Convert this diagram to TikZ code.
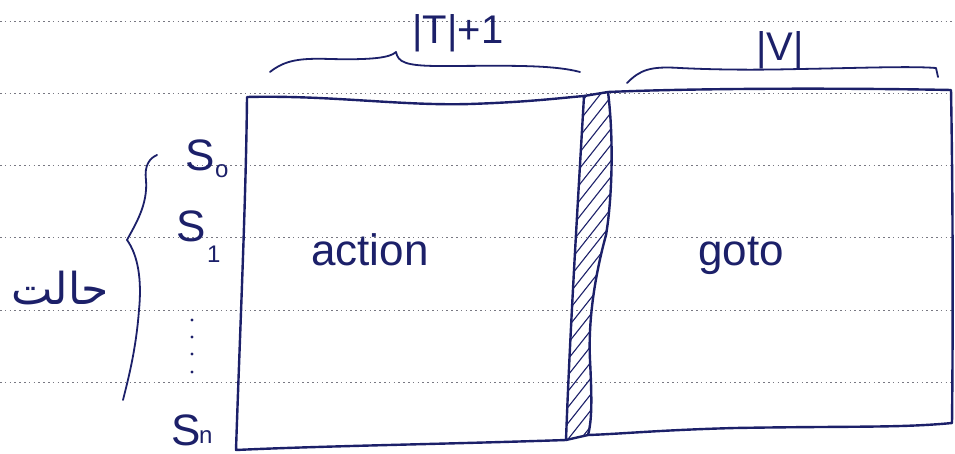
\documentclass[tikz,border=0pt]{standalone}
\usepackage{fontspec}
\setmainfont{Liberation Sans}
\newfontfamily\arabicfont[Script=Arabic]{DejaVu Sans}
\TeXXeTstate=1
\definecolor{ink}{RGB}{28,32,105}
\definecolor{paperline}{RGB}{120,120,130}
\begin{document}
\begin{tikzpicture}[x=1pt,y=-1pt,
  pen/.style={draw=ink,line width=2.4pt,line cap=round,line join=round},
  thinpen/.style={draw=ink,line width=1.8pt,line cap=round,line join=round},
  hatch/.style={draw=ink,line width=1.1pt,line cap=round},
  ruled/.style={draw=paperline,line width=1pt,dash pattern=on 1.6pt off 3.2pt},
  hand/.style={text=ink,inner sep=0pt,font=\fontsize{44}{48}\selectfont},
  lab/.style={text=ink,inner sep=0pt,font=\fontsize{40}{44}\selectfont},
  sub/.style={text=ink,inner sep=0pt,font=\fontsize{24}{26}\selectfont}]
\useasboundingbox (0,0) rectangle (955,454);
\fill[white] (0,0) rectangle (955,454);
% ruled paper lines
\foreach \yy in {22,94,166,238,310,382} \draw[ruled] (0,\yy) -- (955,\yy);
% corner coordinates
\coordinate (atl) at (247,97);
\coordinate (atr) at (584,96);
\coordinate (abl) at (236,450);
\coordinate (abr) at (566,440);
\coordinate (gtl) at (608,92);
\coordinate (gtr) at (951,90);
\coordinate (gbl) at (588,435);
\coordinate (gbr) at (952,423);
% hatched strip
\begin{scope}
\clip (atr) -- (gtl) .. controls (614,140) and (612,200) .. (606,235)
  .. controls (595,275) and (588,320) .. (590,360) .. controls (592,400) and (592,420) .. (gbl) -- (abr)
  .. controls (570,330) and (578,200) .. (atr) -- cycle;
\foreach \yy in {110,126,...,500} \draw[hatch] (550,\yy) -- (625,\yy-95);
\end{scope}
\draw[pen] (atr) -- (gtl) .. controls (614,140) and (612,200) .. (606,235)
  .. controls (595,275) and (588,320) .. (590,360) .. controls (592,400) and (592,420) .. (gbl);
% action box
\draw[pen] (atl) .. controls (330,95) and (400,106) .. (470,104) .. controls (530,102) and (560,98) .. (atr)
  .. controls (578,200) and (570,330) .. (abr)
  .. controls (450,444) and (320,446) .. (abl)
  .. controls (240,330) and (246,200) .. (atl);
% goto box
\draw[pen] (gtl) .. controls (700,88) and (850,88) .. (gtr)
  .. controls (953,200) and (953,330) .. (gbr)
  .. controls (900,428) and (850,426) .. (735,428) .. controls (660,430) and (620,434) .. (gbl);
\draw[pen] (abr) -- (gbl);
% top braces
\draw[thinpen] (270,72) .. controls (285,60) and (300,58) .. (330,59) .. controls (370,60) and (390,58) .. (396,52)
  .. controls (398,62) and (405,66) .. (440,66) .. controls (500,66) and (550,64) .. (580,72);
\node[lab] (tcount) at (458,33) {|T|+1};
\draw[thinpen] (627,83) .. controls (640,70) and (650,66) .. (680,68) .. controls (720,70) and (760,70) .. (800,69)
  .. controls (860,68) and (910,66) .. (936,68) -- (938,77);
\node[lab] (vcount) at (780,50) {|V|};
% state labels
\node[hand] (s0) at (200,155) {S};
\node[sub,anchor=west] (s0sub) at (s0.south east) {o};
\node[hand] (s1) at (191,226) {S};
\node[sub,anchor=north west] (s1sub) at ([xshift=1pt,yshift=-4pt]s1.south east) {1};
\node[hand] (sn) at (186,430) {S};
\node[sub,anchor=south west] (snsub) at ([xshift=-2pt,yshift=2pt]sn.south east) {n};
\foreach \yy in {320,337,354,372} \fill[ink] (192,\yy) circle (1.6pt);
\coordinate (dots) at (192,345);
% left brace
\draw[thinpen] (157,155) .. controls (150,158) and (144,165) .. (146,180) .. controls (148,205) and (135,225) .. (127,240)
  .. controls (138,255) and (142,280) .. (139,310) .. controls (136,350) and (128,380) .. (123,400);
\node[text=ink,inner sep=0pt,font=\arabicfont\fontsize{44}{48}\selectfont] (state) at (60,288) {\beginR حالت\endR};
% cell labels
\node[hand] (action) at (370,250) {action};
\node[hand] (goto) at (741,256) {goto};
\end{tikzpicture}
\end{document}
